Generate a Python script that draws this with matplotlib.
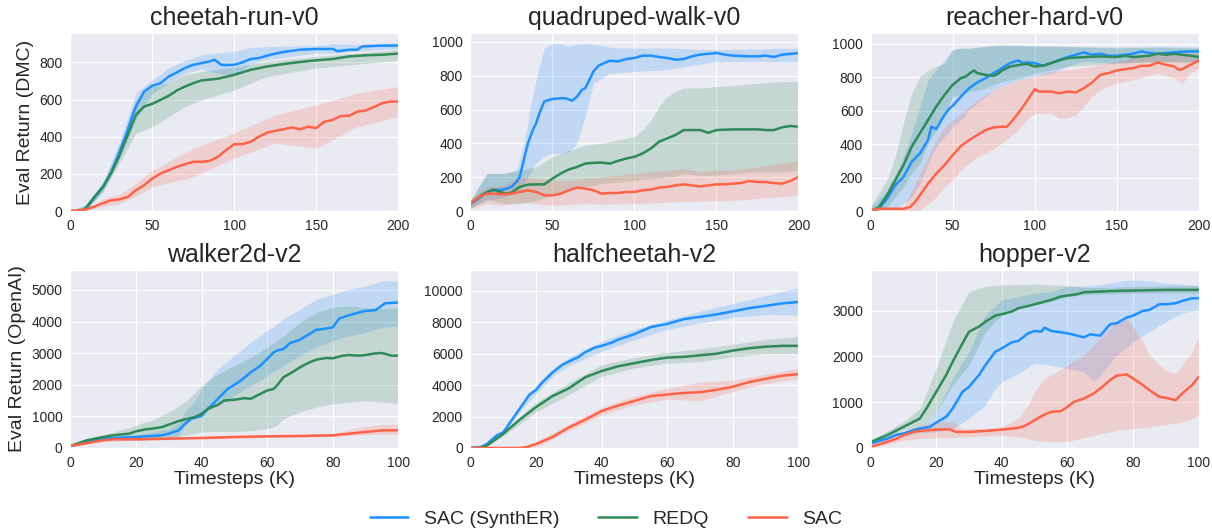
import matplotlib
matplotlib.use("Agg")
import matplotlib.pyplot as plt
import seaborn as sns

# ---------------- data ----------------
labels = ["SAC (SynthER)", "REDQ", "SAC"]
colors = ["#1E90FF", "#2E8B57", "#FF6347"]
titles = ["cheetah-run-v0", "quadruped-walk-v0", "reacher-hard-v0",
          "walker2d-v2", "halfcheetah-v2", "hopper-v2"]
ylims = [958, 1053, 1064, 5634, 11340, 3890]

# cheetah-run-v0
ch_syn_x = [0,5,8,10,15,20,25,30,35,38,40,45,50,55,60,65,70,75,80,85,88,92,95,100,105,110,115,120,125,130,140,150,160,163,170,175,178,190,200]
ch_syn_y = [0,0,5,20,75,130,210,320,435,517,562,643,674,688,724,746,770,787,796,805,814,787,785,787,800,818,823,836,847,856,868,872,872,860,868,868,886,890,890]
ch_syn_bx = [0,10,20,30,40,50,60,70,80,90,100,110,120,150,160,175,200]
ch_syn_lo = [0,10,110,280,490,634,690,740,765,740,730,790,815,850,850,860,875]
ch_syn_hi = [0,35,160,370,634,706,770,810,840,850,860,880,885,890,900,895,905]
ch_redq_x = [0,8,10,15,20,25,30,35,40,45,50,55,60,65,70,75,80,90,100,110,120,130,140,150,160,170,180,190,200]
ch_redq_y = [0,5,22,80,130,205,300,409,517,562,577,598,620,649,670,688,703,712,733,760,778,791,802,811,818,832,838,841,847]
ch_redq_bx = [0,10,20,30,40,50,60,70,80,100,120,150,200]
ch_redq_lo = [0,10,105,260,418,454,508,562,598,652,724,770,811]
ch_redq_hi = [0,35,155,340,598,670,690,733,751,775,805,832,868]
ch_sac_x = [0,10,15,20,25,30,35,40,45,50,55,60,65,70,75,80,85,90,95,100,105,110,115,120,125,130,135,140,145,150,155,160,165,170,175,180,185,190,195,200]
ch_sac_y = [0,10,25,43,58,63,76,112,139,175,202,220,238,252,265,265,270,292,328,360,360,373,400,422,432,440,450,440,454,447,481,490,512,512,535,541,559,580,589,589]
ch_sac_bx = [0,10,20,30,40,50,75,100,125,150,175,200]
ch_sac_lo = [0,5,25,40,80,130,184,285,366,338,454,508]
ch_sac_hi = [0,15,65,90,150,220,337,420,517,571,634,670]

# quadruped-walk-v0
qw_syn_x = [0,5,10,15,20,25,28,30,32,35,38,40,42,45,48,50,55,58,62,65,68,70,72,75,78,80,85,90,95,100,105,110,115,120,125,130,135,140,150,155,160,170,175,180,185,190,195,200]
qw_syn_y = [40,75,110,125,127,143,172,202,281,400,479,519,578,648,657,663,667,667,653,677,717,727,766,826,859,869,889,885,899,905,919,919,911,905,895,899,915,925,935,925,919,915,915,919,911,925,929,935]
qw_syn_bx = [0,10,20,28,30,33,35,36,40,45,50,55,60,65,70,75,80,85,90,100,120,150,200]
qw_syn_lo = [24,60,83,110,123,160,200,220,281,321,341,341,350,400,558,756,786,816,816,826,836,885,885]
qw_syn_hi = [63,222,222,242,300,420,520,598,776,964,990,990,974,985,990,985,978,970,965,964,964,954,964]
qw_redq_x = [0,5,10,14,18,22,25,30,35,40,45,50,55,60,65,70,75,80,85,90,95,100,105,110,115,120,125,130,135,140,145,150,160,170,175,180,185,190,195,200]
qw_redq_y = [44,83,113,127,113,103,109,143,156,158,158,192,222,246,261,281,285,287,281,297,311,321,341,370,410,430,450,479,479,479,463,479,483,483,483,479,479,495,503,499]
qw_redq_bx = [0,10,20,30,40,50,60,70,80,90,100,105,110,115,120,125,130,140,150,160,175,190,200]
qw_redq_lo = [14,73,44,44,63,93,123,143,162,172,182,187,192,197,202,207,222,212,212,222,232,232,242]
qw_redq_hi = [63,222,222,242,261,321,360,390,400,420,440,479,537,618,677,707,727,727,737,741,756,766,766]
qw_sac_x = [0,5,10,15,20,25,30,35,40,45,50,55,60,65,70,75,80,85,90,95,100,105,110,115,120,125,130,135,140,145,150,155,160,165,170,175,180,185,190,195,200]
qw_sac_y = [44,83,103,103,99,103,113,123,113,93,93,103,123,139,133,123,103,107,107,113,113,123,127,139,143,152,158,152,146,152,158,158,162,166,178,172,172,166,162,178,202]
qw_sac_bx = [0,10,20,30,40,50,60,70,80,100,110,120,130,140,150,160,175,190,200]
qw_sac_lo = [14,44,34,53,44,34,40,44,40,44,48,53,56,59,61,63,75,85,93]
qw_sac_hi = [73,143,152,202,192,182,182,192,202,222,232,242,251,232,242,242,261,281,301]

# reacher-hard-v0
rh_syn_x = [0,5,10,15,20,25,30,35,37,40,42,45,48,50,55,60,65,70,75,80,85,90,93,95,100,105,110,115,120,125,130,135,140,145,150,155,160,165,170,175,180,185,190,195,200]
rh_syn_y = [0,14,74,154,204,294,344,424,504,490,524,574,614,628,684,734,768,794,824,854,884,900,884,888,884,868,884,904,920,934,948,934,940,928,928,934,940,954,944,940,944,948,952,954,954]
rh_syn_bx = [0,10,15,20,25,30,35,40,45,50,55,60,65,70,75,80,90,100,110,120,130,150,175,200]
rh_syn_lo = [0,14,14,44,84,164,284,384,444,504,544,604,644,684,724,744,784,804,824,864,894,884,894,894]
rh_syn_hi = [24,124,220,324,464,624,784,844,904,964,974,968,980,984,990,994,988,984,984,984,980,974,984,980]
rh_redq_x = [0,5,10,15,20,25,30,35,40,45,50,55,58,60,63,65,70,75,78,80,85,90,95,100,105,110,115,120,130,140,150,155,160,165,170,175,180,185,190,195,200]
rh_redq_y = [0,24,94,184,274,384,464,544,624,694,754,794,804,820,840,824,814,808,824,840,864,872,880,864,868,884,900,914,920,924,920,928,920,924,928,940,934,940,934,928,920]
rh_redq_bx = [0,10,15,20,25,30,35,40,45,50,55,60,70,80,90,100,120,150,175,200]
rh_redq_lo = [0,24,84,144,224,284,404,484,584,684,694,714,734,774,794,824,864,884,894,884]
rh_redq_hi = [34,184,324,524,704,804,844,864,884,964,974,974,984,988,988,988,984,980,978,974]
rh_sac_x = [0,5,10,15,20,24,27,30,35,40,45,50,55,60,65,70,75,80,83,85,90,95,100,103,110,115,120,125,130,135,140,145,150,155,160,165,170,175,180,185,188,190,195,200]
rh_sac_y = [4,14,14,14,14,24,54,94,164,224,274,334,388,424,454,484,500,504,504,524,584,654,728,714,714,704,714,708,734,768,814,824,840,848,854,868,868,888,874,864,844,848,874,900]
rh_sac_bx = [0,20,30,35,40,45,50,55,60,65,70,75,80,85,90,95,100,110,115,120,125,130,135,140,150,160,175,185,190,195,200]
rh_sac_lo = [0,0,4,44,84,144,184,244,284,324,344,374,404,444,484,544,584,584,554,554,574,624,684,724,764,784,824,794,764,824,854]
rh_sac_hi = [14,24,224,324,424,504,544,584,624,664,694,724,744,764,784,795,804,834,840,844,850,854,864,874,894,914,934,940,944,944,944]

# walker2d-v2
wk_syn_x = [0,5,10,13,15,20,25,28,30,33,35,37,40,42,45,48,50,52,55,58,60,62,63,65,67,70,72,75,77,80,82,85,88,90,93,96,100]
wk_syn_y = [60,190,294,315,326,347,378,399,452,557,767,924,1008,1239,1554,1869,1995,2132,2394,2604,2814,3024,3077,3129,3318,3423,3549,3738,3759,3812,4095,4200,4284,4337,4358,4578,4599]
wk_syn_bx = [0,10,20,30,33,35,38,40,45,50,55,60,65,70,75,80,85,90,95,100]
wk_syn_lo = [50,250,242,294,347,714,1029,1134,1344,1659,1974,2289,2604,2919,3182,3392,3549,3654,3812,3864]
wk_syn_hi = [70,320,400,609,800,1134,1500,1869,2499,2919,3339,3707,4074,4389,4704,4862,5019,5124,5282,5282]
wk_redq_x = [0,5,10,13,15,18,20,23,25,28,30,33,35,38,40,42,45,47,50,53,55,58,60,62,63,65,68,70,73,75,78,80,83,85,88,90,93,95,98,100]
wk_redq_y = [60,242,347,399,420,452,525,588,609,662,735,851,903,977,1082,1239,1365,1502,1523,1575,1554,1712,1817,1869,1974,2237,2415,2552,2709,2793,2846,2835,2919,2940,2919,2940,2993,3003,2919,2919]
wk_redq_bx = [0,10,20,25,30,35,40,45,50,55,60,63,65,70,75,80,85,90,95,100]
wk_redq_lo = [40,290,294,320,347,399,504,525,525,546,609,714,924,1134,1292,1397,1449,1502,1449,1397]
wk_redq_hi = [80,400,714,872,1134,1449,1974,2342,2604,2867,3182,3400,3549,3969,4284,4442,4494,4442,4410,4442]
wk_sac_x = [0,5,10,13,20,30,40,50,60,70,80,85,90,95,100]
wk_sac_y = [60,150,242,273,273,294,315,347,368,378,399,452,504,557,557]
wk_sac_bx = [0,10,20,40,60,80,85,90,95,100]
wk_sac_lo = [50,200,240,280,330,360,390,420,430,430]
wk_sac_hi = [70,280,310,350,400,450,580,680,740,740]

# halfcheetah-v2
hc_syn_x = [0,3,5,8,10,12,15,18,20,22,25,28,30,33,35,38,40,43,45,48,50,55,60,65,70,75,80,85,90,95,100]
hc_syn_y = [0,30,250,800,1000,1600,2500,3400,3700,4200,4800,5300,5500,5800,6100,6400,6500,6700,6900,7100,7250,7700,7900,8200,8350,8500,8700,8900,9050,9200,9300]
hc_syn_bx = [0,5,10,15,20,25,30,40,50,60,70,80,90,100]
hc_syn_lo = [0,200,900,2300,3450,4550,5250,6150,6900,7550,7950,8300,8500,8450]
hc_syn_hi = [0,350,1150,2700,3950,5050,5750,6800,7550,8150,8700,9200,9700,10200]
hc_redq_x = [0,3,5,10,15,20,25,30,35,40,45,50,55,60,65,70,75,80,85,90,95,100]
hc_redq_y = [0,20,150,900,1800,2600,3300,3800,4500,4900,5200,5400,5600,5750,5800,5900,6000,6200,6350,6450,6500,6500]
hc_redq_bx = [0,5,10,20,30,40,50,60,70,80,90,100]
hc_redq_lo = [0,100,750,2300,3400,4550,5100,5400,5500,5800,6000,6000]
hc_redq_hi = [0,200,1050,2900,4150,5300,5750,6100,6300,6600,6900,7100]
hc_sac_x = [0,10,15,17,20,25,30,35,40,45,50,55,60,65,70,75,80,85,90,95,100]
hc_sac_y = [0,0,0,50,250,700,1300,1800,2350,2700,3000,3300,3400,3500,3550,3700,3900,4200,4400,4600,4700]
hc_sac_bx = [0,10,15,20,30,40,50,60,70,80,90,100]
hc_sac_lo = [0,0,0,50,1100,2100,2750,3100,3000,3600,4100,4400]
hc_sac_hi = [0,0,50,400,1500,2600,3300,3800,4200,4300,4700,5100]

# hopper-v2
hp_syn_x = [0,5,8,10,13,15,18,20,23,25,28,30,33,35,38,40,43,45,48,50,52,53,55,58,60,63,65,67,70,73,75,78,80,83,85,88,90,93,95,98,100]
hp_syn_y = [95,204,292,314,387,423,460,555,679,861,1226,1336,1591,1810,2102,2175,2307,2336,2504,2555,2540,2628,2555,2526,2504,2453,2416,2482,2453,2701,2723,2847,2891,2993,3015,3139,3139,3161,3212,3270,3270]
hp_syn_bx = [0,10,15,20,25,30,35,38,40,45,50,55,60,65,68,70,75,80,85,90,95,100]
hp_syn_lo = [70,250,330,350,423,642,934,1299,1445,1628,1847,1810,1737,1664,1445,1591,2029,2321,2540,2759,2942,3015]
hp_syn_hi = [130,370,470,788,1518,2102,2905,3100,3234,3307,3380,3416,3526,3540,3550,3562,3635,3672,3650,3599,3577,3548]
hp_redq_x = [0,5,8,10,13,15,17,20,23,25,28,30,33,35,38,40,43,45,48,50,55,58,60,63,65,70,75,80,90,100]
hp_redq_y = [131,277,387,460,569,642,861,1226,1591,1883,2285,2540,2650,2759,2891,2920,2978,3051,3102,3139,3234,3307,3329,3358,3402,3416,3431,3438,3453,3453]
hp_redq_bx = [0,10,15,20,25,30,35,40,45,50,55,60,65,70,80,100]
hp_redq_lo = [110,387,460,788,1372,1810,2540,2905,3051,3124,3197,3307,3343,3358,3380,3380]
hp_redq_hi = [170,569,861,1737,2759,3416,3526,3562,3570,3577,3560,3548,3504,3504,3526,3548]
hp_sac_x = [0,5,8,10,13,15,20,24,26,30,35,40,45,47,50,53,55,58,60,62,65,68,70,73,75,78,80,83,85,88,90,93,95,98,100]
hp_sac_y = [22,131,204,277,350,372,401,409,350,350,372,401,438,482,606,730,788,803,898,1007,1080,1190,1299,1482,1577,1606,1518,1372,1263,1117,1095,1044,1190,1372,1555]
hp_sac_bx = [0,10,15,20,25,28,30,35,40,45,48,50,53,55,60,65,70,73,75,78,80,83,85,88,90,93,95,98,100]
hp_sac_lo = [0,168,204,219,230,235,241,260,277,241,200,168,150,131,146,219,314,350,387,400,423,440,460,490,511,540,569,640,715]
hp_sac_hi = [60,350,496,569,569,423,423,423,460,642,934,1226,1518,1591,1810,2029,2394,2613,2759,2832,2650,2321,2029,1810,1701,1628,1810,2102,2431]

panels = [
    [(ch_syn_x, ch_syn_y, ch_syn_bx, ch_syn_lo, ch_syn_hi),
     (ch_redq_x, ch_redq_y, ch_redq_bx, ch_redq_lo, ch_redq_hi),
     (ch_sac_x, ch_sac_y, ch_sac_bx, ch_sac_lo, ch_sac_hi)],
    [(qw_syn_x, qw_syn_y, qw_syn_bx, qw_syn_lo, qw_syn_hi),
     (qw_redq_x, qw_redq_y, qw_redq_bx, qw_redq_lo, qw_redq_hi),
     (qw_sac_x, qw_sac_y, qw_sac_bx, qw_sac_lo, qw_sac_hi)],
    [(rh_syn_x, rh_syn_y, rh_syn_bx, rh_syn_lo, rh_syn_hi),
     (rh_redq_x, rh_redq_y, rh_redq_bx, rh_redq_lo, rh_redq_hi),
     (rh_sac_x, rh_sac_y, rh_sac_bx, rh_sac_lo, rh_sac_hi)],
    [(wk_syn_x, wk_syn_y, wk_syn_bx, wk_syn_lo, wk_syn_hi),
     (wk_redq_x, wk_redq_y, wk_redq_bx, wk_redq_lo, wk_redq_hi),
     (wk_sac_x, wk_sac_y, wk_sac_bx, wk_sac_lo, wk_sac_hi)],
    [(hc_syn_x, hc_syn_y, hc_syn_bx, hc_syn_lo, hc_syn_hi),
     (hc_redq_x, hc_redq_y, hc_redq_bx, hc_redq_lo, hc_redq_hi),
     (hc_sac_x, hc_sac_y, hc_sac_bx, hc_sac_lo, hc_sac_hi)],
    [(hp_syn_x, hp_syn_y, hp_syn_bx, hp_syn_lo, hp_syn_hi),
     (hp_redq_x, hp_redq_y, hp_redq_bx, hp_redq_lo, hp_redq_hi),
     (hp_sac_x, hp_sac_y, hp_sac_bx, hp_sac_lo, hp_sac_hi)],
]

# ---------------- plotting ----------------
sns.set_style("darkgrid")
plt.rcParams['font.family'] = ['Liberation Sans', 'DejaVu Sans']

fig, axes = plt.subplots(2, 3, figsize=(12.12, 5.32), dpi=100)
fig.subplots_adjust(left=0.058, right=0.989, top=0.938, bottom=0.158,
                    wspace=0.22, hspace=0.33)

for i, ax in enumerate(axes.flat):
    for (x, y, bx, lo, hi), c, lab in zip(panels[i], colors, labels):
        ax.fill_between(bx, lo, hi, color=c, alpha=0.2, linewidth=0)
        ax.plot(x, y, color=c, lw=1.8, label=lab)
    ax.set_title(titles[i], fontsize=18)
    ax.set_ylim(0, ylims[i])
    if i < 3:
        ax.set_xlim(0, 200)
        ax.set_xticks([0, 50, 100, 150, 200])
    else:
        ax.set_xlim(0, 100)
        ax.set_xticks([0, 20, 40, 60, 80, 100])
        ax.set_xlabel('Timesteps (K)', fontsize=14, labelpad=1)
    ax.tick_params(labelsize=10, pad=2)

axes[0, 0].set_ylabel('Eval Return (DMC)', fontsize=14)
axes[1, 0].set_ylabel('Eval Return (OpenAI)', fontsize=14)

handles, labs = axes[0, 0].get_legend_handles_labels()
fig.legend(handles, labs, loc='center', bbox_to_anchor=(0.5, 0.025),
           ncol=3, frameon=False, fontsize=14)

fig.savefig('out.png', dpi=100)
